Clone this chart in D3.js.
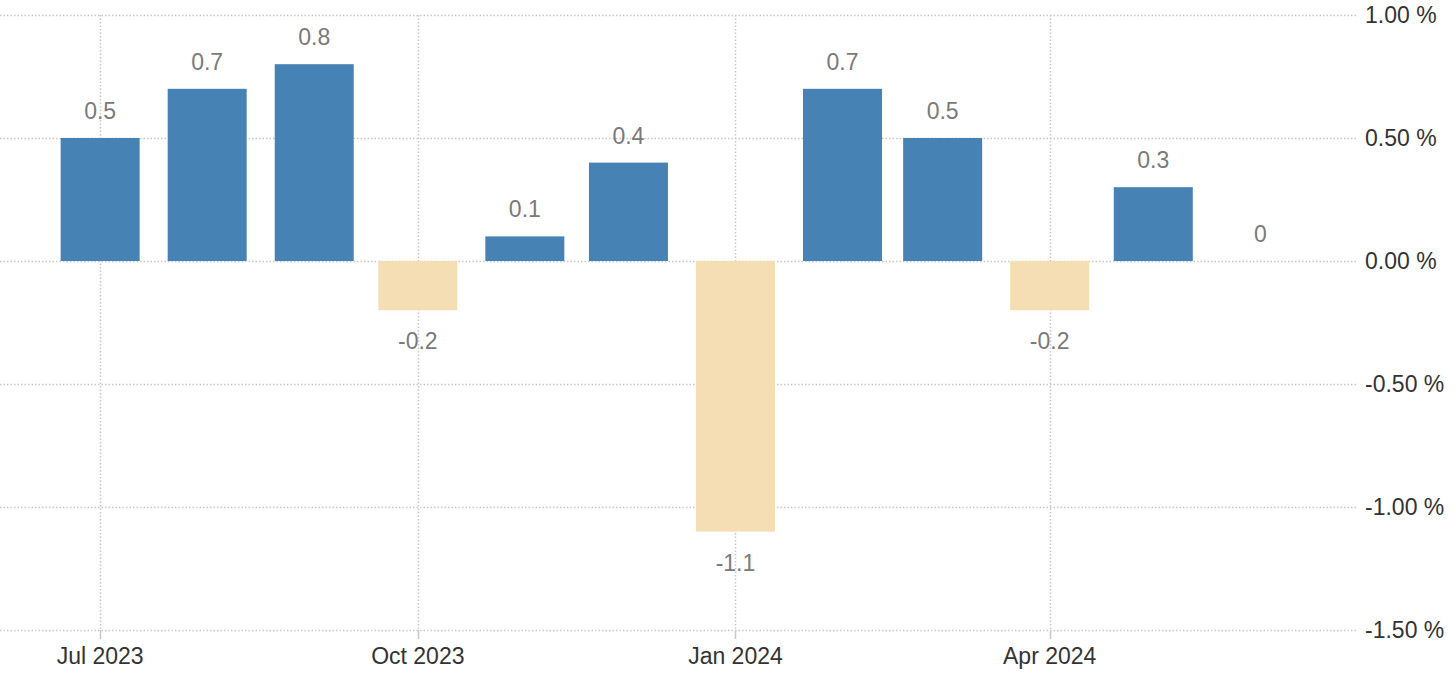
<!DOCTYPE html>
<html>
<head>
<meta charset="utf-8">
<script src="https://cdn.jsdelivr.net/npm/d3@7"></script>
<style>
  html, body { margin: 0; padding: 0; background: #fff; }
  svg { display: block; }
  text { font-family: "Liberation Sans", Arial, sans-serif; }
</style>
</head>
<body>
<svg id="chart" width="1455" height="680"></svg>
<script>
// ---- data ----
const months = ["2023-07-01","2023-08-01","2023-09-01","2023-10-01","2023-11-01","2023-12-01",
                "2024-01-01","2024-02-01","2024-03-01","2024-04-01","2024-05-01","2024-06-01"];
const values = [0.5, 0.7, 0.8, -0.2, 0.1, 0.4, -1.1, 0.7, 0.5, -0.2, 0.3, 0];
const xTickDates = ["2023-07-01","2023-10-01","2024-01-01","2024-04-01"];
const xTickLabels = ["Jul 2023","Oct 2023","Jan 2024","Apr 2024"];
const yTicks = [1.0, 0.5, 0.0, -0.5, -1.0, -1.5];
const yTickLabels = ["1.00 %","0.50 %","0.00 %","-0.50 %","-1.00 %","-1.50 %"];

const parse = d3.utcParse("%Y-%m-%d");
const data = months.map((m, i) => ({ date: parse(m), value: values[i] }));

const svg = d3.select("#chart");
const plotRight = 1357, plotTop = 15, plotBottom = 630;

const x = d3.scaleUtc()
  .domain([parse("2023-06-02"), parse("2024-06-29")])
  .range([0, plotRight]);
const y = d3.scaleLinear().domain([-1.5, 1.0]).range([plotBottom, plotTop]);

const barW = 79;
const gridColor = "#c8c8c8";

// horizontal gridlines
svg.append("g").selectAll("line").data(yTicks).join("line")
  .attr("x1", 0).attr("x2", plotRight)
  .attr("y1", d => y(d) + 0.5).attr("y2", d => y(d) + 0.5)
  .attr("stroke", gridColor).attr("stroke-width", 1.5)
  .attr("stroke-dasharray", "1.5,2");

// vertical gridlines
const xt = xTickDates.map(parse);
svg.append("g").selectAll("line").data(xt).join("line")
  .attr("x1", d => Math.round(x(d)) + 0.5).attr("x2", d => Math.round(x(d)) + 0.5)
  .attr("y1", plotTop).attr("y2", plotBottom)
  .attr("stroke", gridColor).attr("stroke-width", 1.5)
  .attr("stroke-dasharray", "1.5,2");

// tick marks
svg.append("g").selectAll("line").data(xt).join("line")
  .attr("x1", d => Math.round(x(d)) + 0.5).attr("x2", d => Math.round(x(d)) + 0.5)
  .attr("y1", plotBottom).attr("y2", plotBottom + 9)
  .attr("stroke", "#c8c8c8").attr("stroke-width", 1.5);

// bars
svg.append("g").selectAll("rect").data(data).join("rect")
  .attr("x", d => x(d.date) - barW / 2)
  .attr("width", barW)
  .attr("y", d => y(Math.max(0, d.value)))
  .attr("height", d => Math.abs(y(d.value) - y(0)))
  .attr("fill", d => d.value < 0 ? "#F5DEB3" : "#4682B4");

// value labels
svg.append("g").selectAll("text").data(data).join("text")
  .attr("x", d => x(d.date))
  .attr("y", d => d.value < 0 ? y(d.value) + 39 : y(d.value) - 19)
  .attr("text-anchor", "middle")
  .attr("font-size", 23)
  .attr("fill", "#7a7a7a")
  .text(d => String(d.value));

// x axis labels
svg.append("g").selectAll("text").data(xt).join("text")
  .attr("x", d => x(d))
  .attr("y", 664)
  .attr("text-anchor", "middle")
  .attr("font-size", 23)
  .attr("fill", "#333")
  .text((d, i) => xTickLabels[i]);

// y axis labels
svg.append("g").selectAll("text").data(yTicks).join("text")
  .attr("x", 1365)
  .attr("y", d => y(d) + 8)
  .attr("font-size", 23)
  .attr("fill", "#333")
  .text((d, i) => yTickLabels[i]);
</script>
</body>
</html>
